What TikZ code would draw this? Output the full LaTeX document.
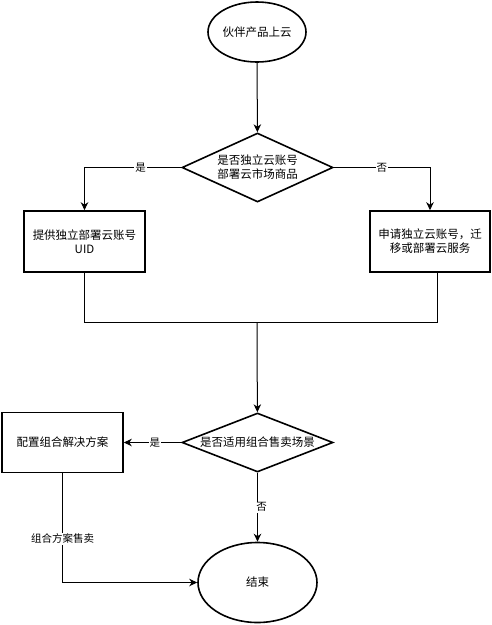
\documentclass[tikz,border=0pt]{standalone}
\usepackage{fontspec}
\setmainfont{Noto Sans CJK SC}
\usetikzlibrary{shapes.geometric,arrows.meta}
\begin{document}
\begin{tikzpicture}[x=1pt,y=-1pt,
  every node/.style={font=\fontsize{11.5}{14}\selectfont},
  term/.style={ellipse,draw,line width=1.6pt,inner sep=0pt},
  proc/.style={rectangle,draw,line width=1.6pt,inner sep=0pt,align=center},
  dec/.style={diamond,draw,line width=1.6pt,inner sep=0pt},
  conn/.style={line width=1pt,-{Stealth[length=8pt,width=7.5pt,inset=2.5pt]}},
  plain/.style={line width=1pt},
  lab/.style={fill=white,inner sep=1pt,font=\fontsize{10.5}{12}\selectfont}]
\useasboundingbox (0,0) rectangle (492,625);
\node[term,minimum width=98,minimum height=60] (start) at (257,32) {伙伴产品上云};
\node[dec,minimum width=151,minimum height=69] (d1) at (257.5,167.5) {};
\node[align=center] (d1t) at (d1) {是否独立云账号\\部署云市场商品};
\node[proc,minimum width=121,minimum height=61] (lbox) at (84.5,241.5) {提供独立部署云账号\\UID};
\node[proc,minimum width=120,minimum height=61] (rbox) at (430,241.5) {申请独立云账号，迁\\移或部署云服务};
\coordinate (j) at (257,322);
\node[dec,minimum width=151,minimum height=59] (d2) at (257.5,442.5) {};
\node (d2t) at (d2) {是否适用组合售卖场景};
\node[proc,minimum width=121,minimum height=60] (cbox) at (62.5,442.5) {配置组合解决方案};
\node[term,minimum width=119,minimum height=80] (end) at (257.5,582.5) {结束};

\draw[conn] (start) -- (d1);
\draw[conn] (d1.west) -| node[lab,pos=0.21] {是} (lbox.north);
\draw[conn] (d1.east) -| node[lab,pos=0.25] {否} (rbox.north);
\draw[plain] (lbox.south) |- ([xshift=7pt]rbox.south |- j) -- ([xshift=7pt]rbox.south);
\draw[conn] (j) -- (d2);
\draw[conn] (d2.west) -- node[lab,pos=0.46] {是} (cbox.east);
\draw[conn] (d2.south) -- node[lab,pos=0.5,xshift=4pt] {否} (end);
\draw[conn] (cbox.south) |- node[lab,pos=0.3] {组合方案售卖} (end.west);
\end{tikzpicture}
\end{document}
